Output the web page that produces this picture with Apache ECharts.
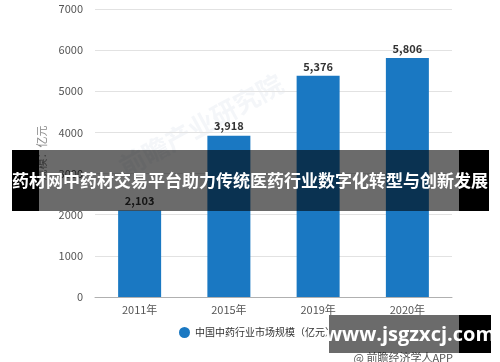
<!DOCTYPE html>
<html>
<head>
<meta charset="utf-8">
<script src="https://cdn.jsdelivr.net/npm/echarts@6/dist/echarts.min.js"></script>
<style>html,body{margin:0;padding:0;background:#fff;}#c{width:500px;height:362px;}</style>
</head>
<body>
<div id="c"></div>
<script>
const categories = ['2011年', '2015年', '2019年', '2020年'];
const values = [2103, 3918, 5376, 5806];
const seriesName = '中国中药行业市场规模（亿元）';
const yAxisName = '规模：亿元';
const titleText = '药材网中药材交易平台助力传统医药行业数字化转型与创新发展';
const siteText = 'www.jsgzxcj.com';
const sourceText = '@ 前瞻经济学人APP';

const chart = echarts.init(document.getElementById('c'), null, {renderer: 'canvas'});
const font = '"Noto Sans CJK SC", "Noto Sans", sans-serif';
chart.setOption({
  animation: false,
  textStyle: {fontFamily: font},
  grid: {left: 95, right: 48, top: 9, bottom: 65},
  xAxis: {
    type: 'category',
    data: categories,
    axisLine: {lineStyle: {color: '#b0b0b0'}},
    axisTick: {alignWithLabel: true, lineStyle: {color: '#b0b0b0'}, length: 5},
    axisLabel: {color: '#555', fontSize: 11, margin: 7, fontFamily: font}
  },
  yAxis: {
    type: 'value',
    min: 0, max: 7000, interval: 1000,
    name: yAxisName,
    nameLocation: 'middle',
    nameGap: 40,
    nameRotate: 90,
    nameTextStyle: {color: '#888', fontSize: 11, fontFamily: font},
    axisLine: {show: false},
    axisTick: {show: false},
    axisLabel: {color: '#555', fontSize: 11, margin: 12, fontFamily: font, formatter: v => String(v)},
    splitLine: {lineStyle: {color: '#e2e2e2'}}
  },
  legend: {
    data: [seriesName],
    bottom: 19,
    left: 174,
    icon: 'circle',
    itemWidth: 11, itemHeight: 11,
    itemGap: 6,
    textStyle: {color: '#333', fontSize: 10, fontFamily: font}
  },
  series: [{
    name: seriesName,
    type: 'bar',
    data: values,
    barWidth: 43,
    itemStyle: {color: '#1a78c2'},
    label: {
      show: true,
      position: 'top',
      distance: 4,
      color: '#333',
      fontSize: 11,
      fontWeight: 'bold',
      fontFamily: font,
      formatter: p => p.value.toLocaleString('en-US')
    }
  }],
  graphic: [
    {type: 'text', left: 115, top: 70, rotation: 0.5, z: -1,
      style: {text: '前瞻产业研究院', fill: 'rgba(200,212,225,0.2)', fontSize: 26, fontWeight: 'bold', fontFamily: font}},
    {type: 'rect', shape: {x: 12, y: 150, width: 27, height: 61}, style: {fill: '#000'}, z: 100},
    {type: 'rect', shape: {x: 39, y: 150, width: 420, height: 61}, style: {fill: 'rgba(0,0,0,0.58)'}, z: 100},
    {type: 'rect', shape: {x: 459, y: 150, width: 30, height: 61}, style: {fill: '#000'}, z: 100},
    {type: 'text', x: 250, y: 181, z: 101,
      style: {text: titleText, fill: '#fff', fontSize: 17, fontWeight: 'bold', fontFamily: font, align: 'center', verticalAlign: 'middle'}},
    {type: 'text', x: 453, y: 358, z: 99,
      style: {text: sourceText, fill: '#555', fontSize: 11, fontFamily: font, align: 'right', verticalAlign: 'middle'}},
    {type: 'rect', shape: {x: 329, y: 315, width: 130, height: 38}, style: {fill: 'rgba(0,0,0,0.58)'}, z: 100},
    {type: 'rect', shape: {x: 459, y: 315, width: 32, height: 38}, style: {fill: '#000'}, z: 100},
    {type: 'text', x: 410, y: 335, z: 101,
      style: {text: siteText, fill: '#fff', fontSize: 20, fontWeight: 'bold', fontFamily: '"Open Sans", "DejaVu Sans", sans-serif', align: 'center', verticalAlign: 'middle'}}
  ]
});
</script>
</body>
</html>
